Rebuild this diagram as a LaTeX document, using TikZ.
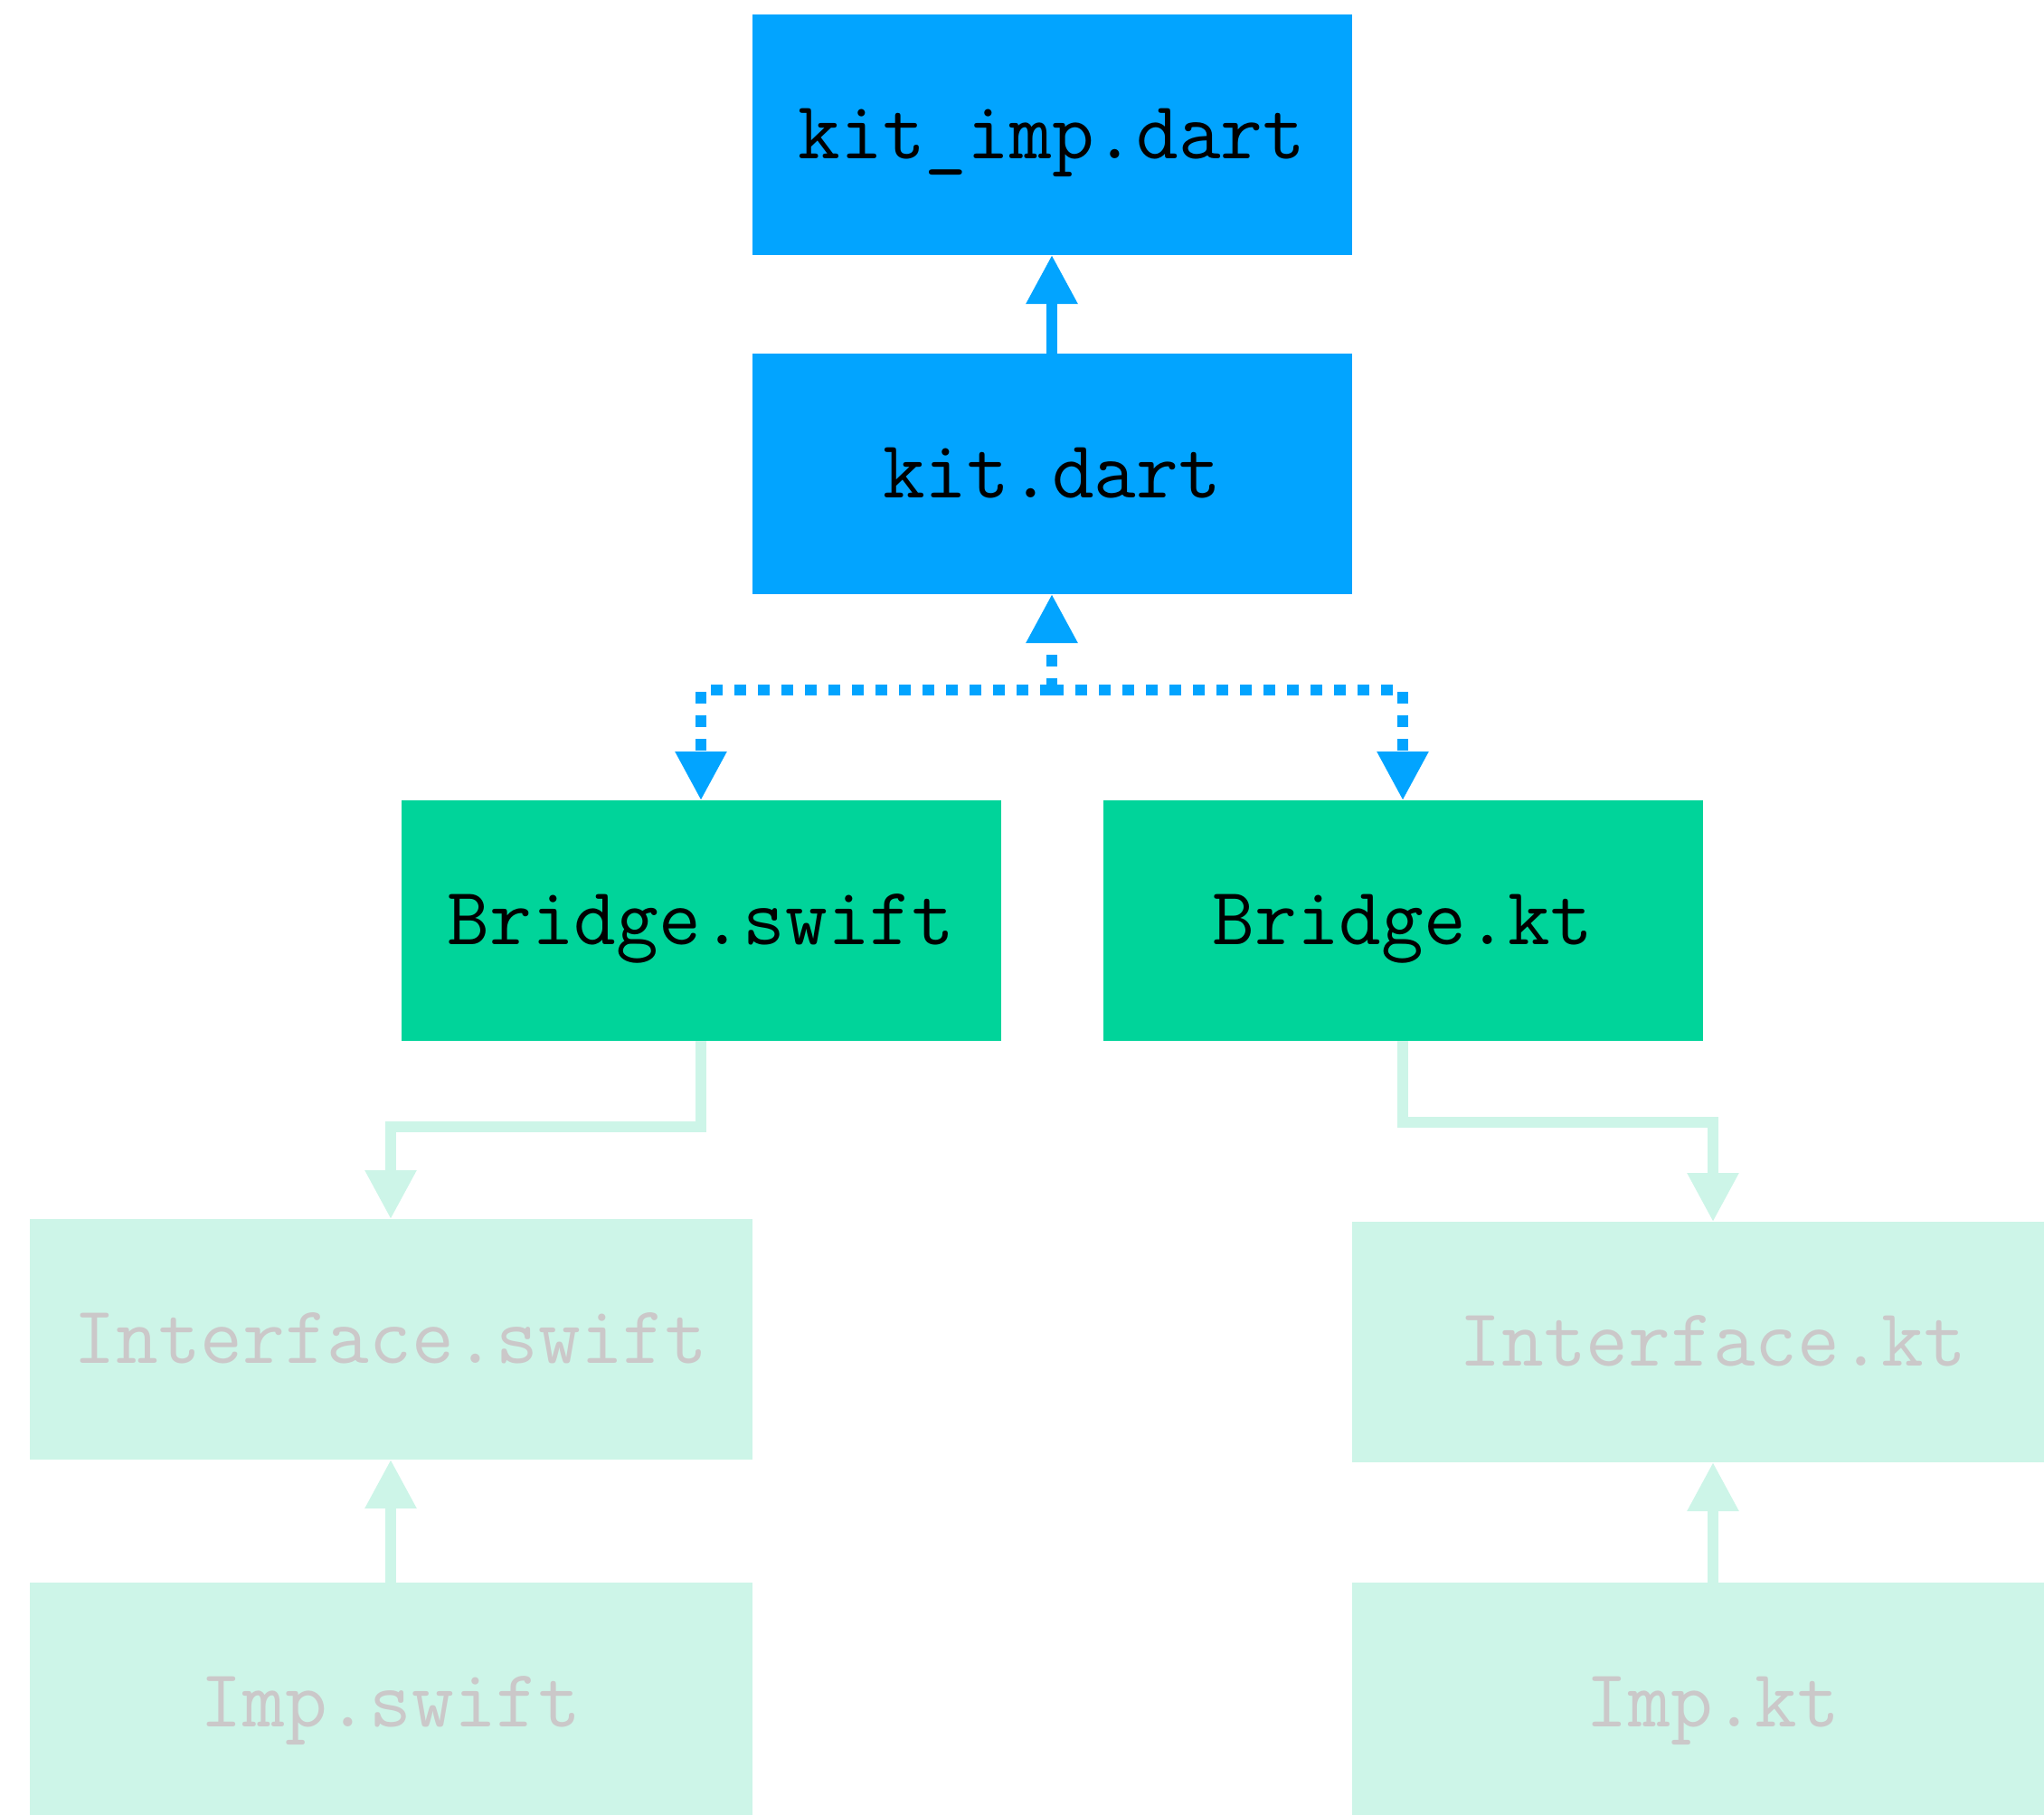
\documentclass[tikz,border=0pt]{standalone}
\usepackage{tikz}
\usetikzlibrary{arrows.meta, positioning, calc}
\usepackage{xcolor}
\definecolor{dartblue}{RGB}{2, 164, 255}
\definecolor{bridgegreen}{RGB}{0, 212, 154}
\definecolor{mint}{RGB}{205, 245, 232}
\definecolor{fadedtext}{RGB}{203, 200, 201}

\begin{document}
\begin{tikzpicture}[
    file/.style={rectangle, inner sep=0pt, outer sep=0pt, minimum width=6.63cm, minimum height=2.66cm, text height=15pt, text depth=0pt, align=center, font=\fontsize{25.8}{30}\selectfont\ttfamily},
    dart/.style={file, fill=dartblue, text=black},
    bridge/.style={file, fill=bridgegreen, text=black},
    native/.style={file, fill=mint, text=fadedtext, minimum width=7.99cm},
    tip/.style={-{Triangle[length=0.54cm, width=0.54cm]}},
    solidarrow/.style={tip, line width=0.12cm, draw=dartblue},
    dotarrow/.style={tip, line width=0.12cm, draw=dartblue, dash pattern=on 0.13cm off 0.13cm},
    mintarrow/.style={tip, line width=0.12cm, draw=mint}
]
\clip (0,0) rectangle (22.6,-20.06);

% Dart side
\node[dart] (kitimp) at (11.63,-1.49) {kit\_imp.dart};
\node[dart, below=1.09cm of kitimp] (kit) {kit.dart};

\draw[solidarrow] (kit) -- (kitimp);

% Bridges
\node[bridge, below=2.28cm of kit, xshift=-3.88cm] (bswift) {Bridge.swift};
\node[bridge, below=2.28cm of kit, xshift=3.88cm] (bkt) {Bridge.kt};

\coordinate (split) at ($(kit.south)+(0,-1.06)$);
\draw[dotarrow] (split) -- (kit);
\draw[dotarrow] (split) -| (bswift);
\draw[dotarrow] (split) -| (bkt);

% Native side
\node[native, below=1.97cm of bswift, xshift=-3.43cm] (iswift) {Interface.swift};
\node[native, below=1.36cm of iswift] (impswift) {Imp.swift};
\node[native, below=2.0cm of bkt, xshift=3.43cm] (ikt) {Interface.kt};
\node[native, below=1.33cm of ikt] (impkt) {Imp.kt};

\draw[mintarrow] (bswift.south) -- ++(0,-0.95) -| (iswift);
\draw[mintarrow] (bkt.south) -- ++(0,-0.90) -| (ikt);
\draw[mintarrow] (impswift) -- (iswift);
\draw[mintarrow] (impkt) -- (ikt);

\end{tikzpicture}
\end{document}
